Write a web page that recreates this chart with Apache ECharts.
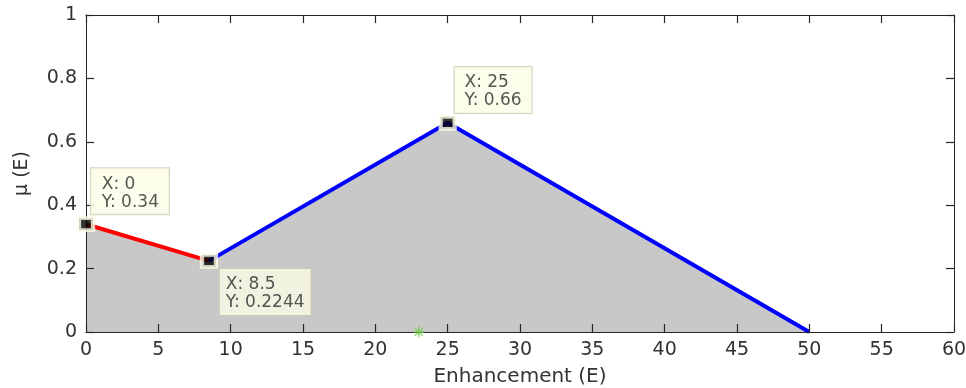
<!DOCTYPE html>
<html>
<head>
<meta charset="utf-8">
<script src="https://cdn.jsdelivr.net/npm/echarts@6/dist/echarts.min.js"></script>
<style>html,body{margin:0;padding:0;background:#fff;}#c{width:966px;height:388px;}</style>
</head>
<body>
<div id="c"></div>
<script>
// ---- data ----
const xTicks = [0, 5, 10, 15, 20, 25, 30, 35, 40, 45, 50, 55, 60];
const yTicks = [0, 0.2, 0.4, 0.6, 0.8, 1];
const redX = [0, 8.5];
const redY = [0.34, 0.2244];
const blueX = [8.5, 25, 50];
const blueY = [0.2244, 0.66, 0];
const tipX = [0, 8.5, 25];
const tipY = [0.34, 0.2244, 0.66];
const starX = [23];
const starY = [0];
const xName = 'Enhancement (E)';
const yName = 'μ (E)';

// ---- build ----
const zip = (a, b) => a.map((v, i) => [v, b[i]]);
const fillData = zip(redX, redY).concat(zip(blueX.slice(1), blueY.slice(1)));
const tipLayout = [
  { pos: [14, -48], pad: [7, 10, 3, 11] },
  { pos: [20, 16], pad: [7, 6, 3, 6] },
  { pos: [16, -48], pad: [7, 10, 3, 10] }
];
const tipData = tipX.map((x, i) => ({
  value: [x, tipY[i]],
  label: { position: tipLayout[i].pos, padding: tipLayout[i].pad }
}));

const FONT = 'DejaVu Sans';
const mkLine = () => ({ show: true, onZero: false, lineStyle: { color: '#262626', width: 1 } });
const mkTick = () => ({ show: true, inside: true, length: 8, lineStyle: { color: '#262626', width: 1.2 } });
const astPath = 'path://M-0.7,-6L0.7,-6L0.7,6L-0.7,6Z M-6,-0.7L6,-0.7L6,0.7L-6,0.7Z M-4.74,-3.75L-3.75,-4.74L4.74,3.75L3.75,4.74Z M3.75,-4.74L4.74,-3.75L-3.75,4.74L-4.74,3.75Z';

const chart = echarts.init(document.getElementById('c'), null, { renderer: 'canvas' });
chart.setOption({
  animation: false,
  backgroundColor: '#ffffff',
  grid: { left: 86, top: 15, right: 12, bottom: 56, containLabel: false, outerBoundsMode: 'none' },
  xAxis: [
    {
      type: 'value', position: 'bottom', z: 10, min: xTicks[0], max: xTicks[xTicks.length - 1], interval: xTicks[1] - xTicks[0],
      axisLine: mkLine(), axisTick: mkTick(), splitLine: { show: false },
      axisLabel: { color: '#333', fontFamily: FONT, fontSize: 19, margin: 9 },
      name: xName, nameLocation: 'middle', nameGap: 35,
      nameTextStyle: { color: '#333', fontFamily: FONT, fontSize: 20 }
    },
    {
      type: 'value', position: 'top', z: 10, min: xTicks[0], max: xTicks[xTicks.length - 1], interval: xTicks[1] - xTicks[0],
      axisLine: mkLine(), axisTick: mkTick(), splitLine: { show: false }, axisLabel: { show: false }
    }
  ],
  yAxis: [
    {
      type: 'value', position: 'left', z: 10, min: yTicks[0], max: yTicks[yTicks.length - 1], interval: yTicks[1] - yTicks[0],
      axisLine: mkLine(), axisTick: mkTick(), splitLine: { show: false },
      axisLabel: { color: '#333', fontFamily: FONT, fontSize: 19, margin: 9, formatter: v => String(+v.toFixed(1)) },
      name: yName, nameLocation: 'middle', nameGap: 54,
      nameTextStyle: { color: '#333', fontFamily: FONT, fontSize: 19 }
    },
    {
      type: 'value', position: 'right', z: 10, min: yTicks[0], max: yTicks[yTicks.length - 1], interval: yTicks[1] - yTicks[0],
      axisLine: mkLine(), axisTick: mkTick(), splitLine: { show: false }, axisLabel: { show: false }
    }
  ],
  series: [
    {
      type: 'line', data: fillData, showSymbol: false, symbol: 'none', z: 1,
      lineStyle: { width: 0, opacity: 0 },
      areaStyle: { color: '#c8c8c8', opacity: 1 }
    },
    {
      type: 'line', data: zip(redX, redY), showSymbol: false, symbol: 'none', z: 2,
      lineStyle: { color: '#ff0000', width: 4 }
    },
    {
      type: 'line', data: zip(blueX, blueY), showSymbol: false, symbol: 'none', z: 2,
      lineStyle: { color: '#0000ff', width: 4 }
    },
    {
      type: 'scatter', data: tipData, symbol: 'rect', symbolSize: [14, 12], z: 15,
      itemStyle: { color: '#000000', borderColor: '#fdfde6', borderWidth: 4 },
      label: {
        show: true,
        formatter: p => 'X: ' + p.value[0] + '\nY: ' + p.value[1],
        color: '#2a2a2a', fontFamily: FONT, fontSize: 17, lineHeight: 18,
        align: 'left', verticalAlign: 'top',
        backgroundColor: '#fdfde6', borderColor: '#c9c9b4', borderWidth: 1
      }
    },
    {
      type: 'scatter', data: zip(starX, starY), symbol: astPath, symbolSize: 11, z: 16,
      itemStyle: { color: '#6ccc3c' }
    }
  ]
});
</script>
</body>
</html>
